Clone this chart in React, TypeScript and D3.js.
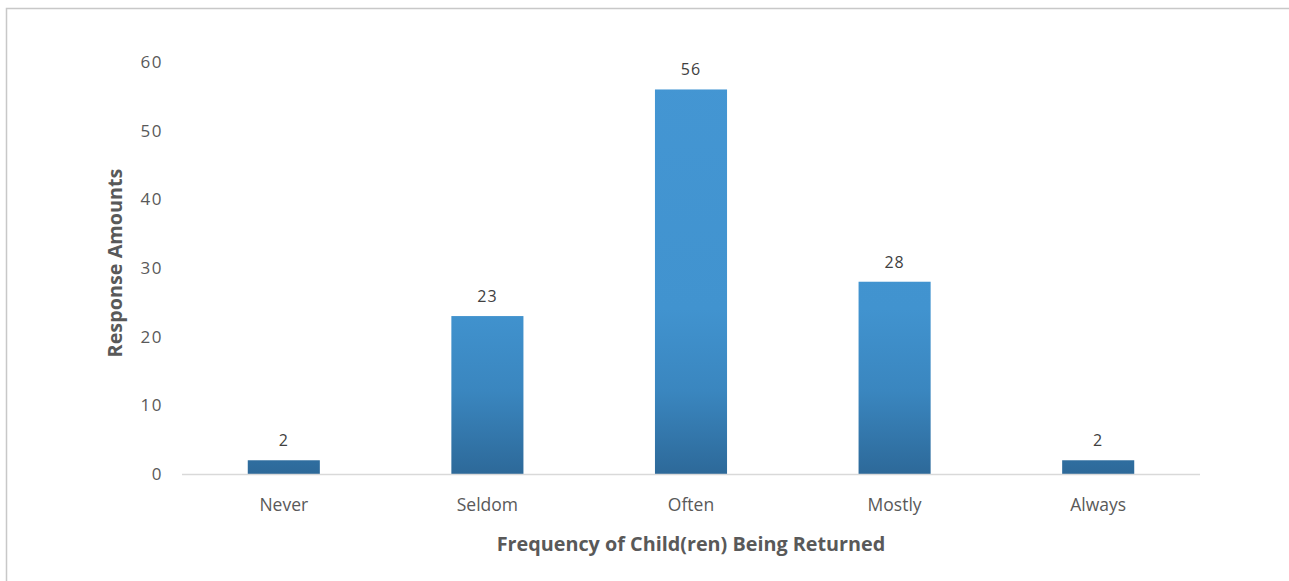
import React from "react";
import * as d3 from "d3";

const categories = ["Never", "Seldom", "Often", "Mostly", "Always"];
const values = [2, 23, 56, 28, 2];
const yTicks = [0, 10, 20, 30, 40, 50, 60];
const xTitle = "Frequency of Child(ren) Being Returned";
const yTitle = "Response Amounts";

export default function App() {
  const W = 1289, H = 581;
  const left = 182, right = 1200, top = 62, bottom = 474;
  const x = d3.scaleBand<string>().domain(categories).range([left, right]).paddingInner(0.646).paddingOuter(0.323);
  const y = d3.scaleLinear().domain([0, 60]).range([bottom, top]);
  const font = "'Open Sans', Lato, sans-serif";
  return (
    <svg width={W} height={H} style={{ position: "absolute", left: 0, top: 0 }}>
      <defs>
        <linearGradient id="barGrad" gradientUnits="userSpaceOnUse" x1="0" y1={y(0)} x2="0" y2={y(60)}>
          <stop offset="0" stopColor="#2d6999" />
          <stop offset="0.2" stopColor="#3a86bf" />
          <stop offset="0.4" stopColor="#4193cf" />
          <stop offset="1" stopColor="#4496d3" />
        </linearGradient>
      </defs>
      <rect x={0} y={0} width={W} height={H} fill="#fff" />
      <rect x={6.5} y={8.5} width={W + 20} height={H + 20} fill="none" stroke="#c8c8c8" strokeWidth={1.5} />
      {yTicks.map((t) => (
        <text key={t} x={163} y={y(t)} dy="0.35em" textAnchor="end" fontSize={17} letterSpacing={1.5} fill="#595959" fontFamily={font}>
          {t}
        </text>
      ))}
      {categories.map((c, i) => (
        <g key={c}>
          <rect x={x(c)} y={y(values[i])} width={x.bandwidth()} height={y(0) - y(values[i])} fill="url(#barGrad)" />
          <text x={(x(c) as number) + x.bandwidth() / 2} y={y(values[i]) - 14} textAnchor="middle" fontSize={16} letterSpacing={1} fill="#404040" fontFamily={font}>
            {values[i]}
          </text>
          <text x={(x(c) as number) + x.bandwidth() / 2} y={511} textAnchor="middle" fontSize={17.5} fill="#595959" fontFamily={font}>
            {c}
          </text>
        </g>
      ))}
      <line x1={left} x2={right} y1={y(0) + 0.5} y2={y(0) + 0.5} stroke="#d9d9d9" strokeWidth={1.5} />
      <text x={(left + right) / 2} y={551} textAnchor="middle" fontSize={19.8} fontWeight="bold" fill="#595959" fontFamily={font}>
        {xTitle}
      </text>
      <text transform={`translate(122, 263) rotate(-90)`} textAnchor="middle" fontSize={19.8} fontWeight="bold" fill="#595959" fontFamily={font}>
        {yTitle}
      </text>
    </svg>
  );
}
